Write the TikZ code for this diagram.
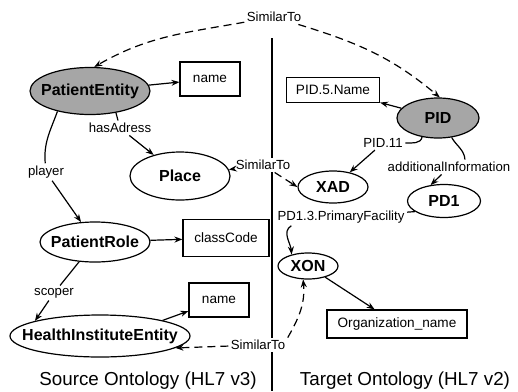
\documentclass[tikz,border=0pt]{standalone}
\usepackage{fontspec}
\setmainfont{Liberation Sans}
\usetikzlibrary{shapes.geometric, arrows.meta}

\begin{document}
\begin{tikzpicture}[x=0.5pt, y=-0.5pt, line width=0.6pt,
    ent/.style={draw, ellipse, inner sep=0pt, font=\bfseries\fontsize{8}{9}\selectfont,
      execute at begin node={\hbox to 0pt\bgroup\hss}, execute at end node={\hss\egroup}},
    gent/.style={ent, fill=black!35},
    attr/.style={draw, rectangle, inner sep=1pt, font=\fontsize{6.8}{7}\selectfont},
    lbl/.style={fill=white, inner sep=1pt, font=\fontsize{6.6}{7}\selectfont},
    rel/.style={-{Stealth[length=4pt, width=3pt]}},
    sim/.style={rel, dash pattern=on 4pt off 2.5pt},
    title/.style={font=\fontsize{9.4}{11}\selectfont}]
  \useasboundingbox (0,0) rectangle (518,391);
  \coordinate (dtop) at (272,38);
  \coordinate (dbot) at (272,391);
  \draw [line width=1.2pt] (dtop) -- (dbot);

  \node [gent, minimum width=60pt, minimum height=23.5pt] (pe) at (90,91) {PatientEntity};
  \node [attr, minimum width=30pt, minimum height=17pt] (name1) at (210,79) {name};
  \node [ent, minimum width=50pt, minimum height=24pt] (place) at (180,176) {Place};
  \node [ent, minimum width=55pt, minimum height=20pt] (prole) at (95,242) {PatientRole};
  \node [attr, minimum width=43pt, minimum height=18.5pt] (ccode) at (226,238) {classCode};
  \node [ent, minimum width=90pt, minimum height=21pt] (hie) at (100,336) {HealthInstituteEntity};
  \node [attr, minimum width=30pt, minimum height=17pt] (name2) at (219,300) {name};

  \node [attr, minimum width=46.5pt, minimum height=12.5pt] (pid5) at (333,90) {PID.5.Name};
  \node [gent, minimum width=41pt, minimum height=20pt] (pid) at (438,118) {PID};
  \node [ent, minimum width=35pt, minimum height=16pt] (xad) at (333,187) {XAD};
  \node [ent, minimum width=36.5pt, minimum height=16.5pt] (pd1) at (444,201) {PD1};
  \node [ent, minimum width=30pt, minimum height=13pt] (xon) at (308,266) {XON};
  \node [attr, minimum width=70pt, minimum height=14pt] (org) at (397,324) {Organization\_name};

  \node [lbl] (simtop) at (274,17) {SimilarTo};
  \node [lbl] (hasadr) at (120,128) {hasAdress};
  \node [lbl] (player) at (46,172) {player};
  \node [lbl] (scoper) at (54,293) {scoper};
  \node [lbl] (simmid) at (263,165) {SimilarTo};
  \node [lbl] (simbot) at (258,345) {SimilarTo};
  \node [lbl] (pid11) at (383,143) {PID.11};
  \node [lbl] (addinf) at (449,167) {additionalInformation};
  \node [lbl] (pfac) at (341,217) {PD1.3.PrimaryFacility};

  \node [title] (src) at (148,381) {Source Ontology (HL7 v3)};
  \node [title] (tgt) at (405,381) {Target Ontology (HL7 v2)};

  \draw [sim] (simtop) to [out=190, in=30] (pe.80);
  \draw [sim] (simtop) to [out=-17, in=140] (pid.85);
  \draw [rel] (pe) -- (name1);
  \draw (pe.-40) -- (hasadr);
  \draw [rel] (hasadr) -- (place);
  \draw (pe.212) to [out=-110, in=95] (player);
  \draw [rel] (player) -- (prole.125);
  \draw [rel] (prole) -- (ccode);
  \draw (prole) -- (scoper);
  \draw [rel] (scoper) -- (hie.167);
  \draw [rel] (hie.14) -- (name2);
  \draw [sim] (simmid) -- (place);
  \draw [sim] (simmid) -- (xad.west);
  \draw [sim] (simbot) -- (hie.-9);
  \draw [sim] (simbot.north east) to [out=60, in=-85] (xon.-110);

  \draw [rel] (pid) -- (pid5);
  \draw (pid.-130) to [out=-100, in=0] (pid11);
  \draw [rel] (pid11) -- (xad);
  \draw (pid.-55) to [out=-60, in=95] (addinf.25);
  \draw [rel] (addinf.-135) -- (pd1.130);
  \draw (pd1.200) -- (pfac);
  \draw [rel] (pfac.-170) to [out=-150, in=95] (xon.145);
  \draw [rel] (xon) -- (org);
\end{tikzpicture}
\end{document}
